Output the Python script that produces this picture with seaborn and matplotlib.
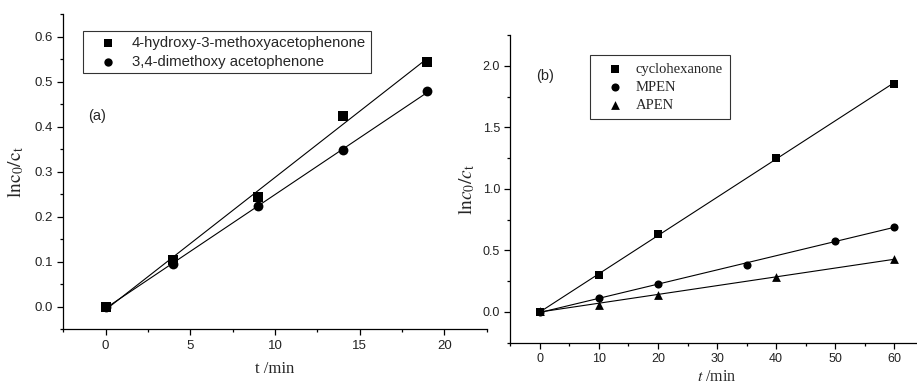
"""
Two-panel kinetics chart: ln(c0/ct) against time with linear fits.
"""
import numpy as np
import matplotlib
matplotlib.use("Agg")
import matplotlib.pyplot as plt
from matplotlib.ticker import MultipleLocator
import seaborn as sns

# --- panel (a) data ---
t_a = [0, 4, 9, 14, 19]
hydroxy_methoxy = [0.0, 0.105, 0.245, 0.425, 0.545]
dimethoxy = [0.0, 0.095, 0.224, 0.348, 0.479]
labels_a = ["4-hydroxy-3-methoxyacetophenone", "3,4-dimethoxy acetophenone"]

# --- panel (b) data ---
t_cyclo = [0, 10, 20, 40, 60]
cyclohexanone = [0.0, 0.30, 0.63, 1.25, 1.855]
t_mpen = [0, 10, 20, 35, 50, 60]
mpen = [0.0, 0.11, 0.23, 0.38, 0.58, 0.69]
t_apen = [0, 10, 20, 40, 60]
apen = [0.01, 0.06, 0.14, 0.285, 0.43]
labels_b = ["cyclohexanone", "MPEN", "APEN"]

sns.set_style("ticks")
plt.rcParams["font.family"] = ["Liberation Sans", "DejaVu Sans"]
plt.rcParams["mathtext.fontset"] = "stix"
plt.rcParams["axes.linewidth"] = 0.9
plt.rcParams["xtick.direction"] = "out"
plt.rcParams["ytick.direction"] = "out"

fig = plt.figure(figsize=(9.17, 3.87), dpi=100)
ax1 = fig.add_axes([0.069, 0.149, 0.4617, 0.814])
ax2 = fig.add_axes([0.5567, 0.1145, 0.4504, 0.795])

serif = ["Liberation Serif", "DejaVu Serif"]
line_kws = dict(color="black", lw=0.8)


def style_axes(ax, tick_size):
    sns.despine(ax=ax)
    for sp in ["left", "bottom"]:
        ax.spines[sp].set_color("black")
    ax.tick_params(which="major", length=4, width=0.9, colors="black",
                   labelsize=tick_size, labelcolor="#222222")
    ax.tick_params(which="minor", length=2.5, width=0.9, colors="black")


# panel (a)
for y, marker, size, lab in [(hydroxy_methoxy, "s", 42, labels_a[0]),
                             (dimethoxy, "o", 50, labels_a[1])]:
    sns.regplot(x=np.array(t_a), y=np.array(y), ax=ax1, ci=None, marker=marker,
                label=lab, scatter_kws=dict(s=size, color="black", linewidths=0, alpha=1),
                line_kws=line_kws)
ax1.set_xlim(-2.5, 22.5)
ax1.set_ylim(-0.05, 0.65)
ax1.xaxis.set_major_locator(MultipleLocator(5))
ax1.xaxis.set_minor_locator(MultipleLocator(2.5))
ax1.yaxis.set_major_locator(MultipleLocator(0.1))
ax1.yaxis.set_minor_locator(MultipleLocator(0.05))
style_axes(ax1, 9.5)
ax1.set_xlabel("t /min", family=serif, fontsize=12, labelpad=7)
ax1.set_ylabel(r"$\mathrm{lnc_{0}/c_{t}}$", fontsize=14, labelpad=6)
ax1.text(-0.5, 0.424, "(a)", fontsize=10.5, ha="center", va="center")
leg = ax1.legend(loc="upper left", bbox_to_anchor=(0.0465, 0.946), borderaxespad=0,
                 frameon=True, fancybox=False, edgecolor="black", fontsize=10.7,
                 scatterpoints=1, markerscale=0.85, handletextpad=0.2,
                 borderpad=0.3, labelspacing=0.35, handlelength=2.8)
leg.get_frame().set_linewidth(0.8)

# panel (b)
for x, y, marker, size, lab in [(t_cyclo, cyclohexanone, "s", 28, labels_b[0]),
                                (t_mpen, mpen, "o", 34, labels_b[1]),
                                (t_apen, apen, "^", 40, labels_b[2])]:
    sns.regplot(x=np.array(x), y=np.array(y), ax=ax2, ci=None, marker=marker,
                label=lab, scatter_kws=dict(s=size, color="black", linewidths=0, alpha=1),
                line_kws=line_kws)
ax2.set_xlim(-5, 65)
ax2.set_ylim(-0.25, 2.25)
ax2.xaxis.set_major_locator(MultipleLocator(10))
ax2.xaxis.set_minor_locator(MultipleLocator(5))
ax2.yaxis.set_major_locator(MultipleLocator(0.5))
ax2.yaxis.set_minor_locator(MultipleLocator(0.25))
style_axes(ax2, 9)
ax2.set_xlabel(r"$t$ /min", family=serif, fontsize=11.5, labelpad=3)
ax2.set_ylabel(r"$\mathrm{ln}c_{\mathrm{0}}/c_{\mathrm{t}}$", fontsize=14, labelpad=4)
ax2.text(0.9, 1.92, "(b)", fontsize=10.5, ha="center", va="center")
leg2 = ax2.legend(loc="upper left", bbox_to_anchor=(0.1925, 0.935), borderaxespad=0,
                  frameon=True, fancybox=False, edgecolor="black", scatterpoints=1,
                  prop=dict(family=serif, size=10.5),
                  handletextpad=0.22, borderpad=0.5, labelspacing=0.34,
                  handlelength=2.4)
leg2.get_frame().set_linewidth(0.8)

fig.savefig("out.png", dpi=100)
